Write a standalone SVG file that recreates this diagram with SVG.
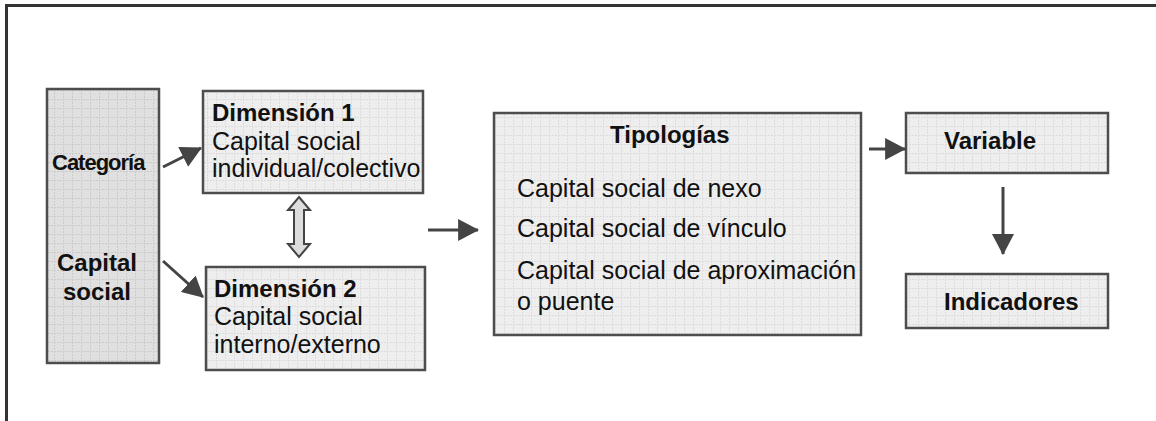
<svg xmlns="http://www.w3.org/2000/svg" width="1156" height="421" viewBox="0 0 1156 421">
<defs>
<pattern id="gridLight" width="9" height="9" patternUnits="userSpaceOnUse">
<rect width="9" height="9" fill="#eeeeee"/>
<path d="M0,0.5 H9 M0.5,0 V9" stroke="#dcdcdc" stroke-width="1" stroke-dasharray="2,1"/>
</pattern>
<pattern id="gridDark" width="9" height="9" patternUnits="userSpaceOnUse">
<rect width="9" height="9" fill="#e0e0e0"/>
<path d="M0,0.5 H9 M0.5,0 V9" stroke="#cbcbcb" stroke-width="1" stroke-dasharray="2,1"/>
</pattern>
<marker id="head" markerUnits="userSpaceOnUse" markerWidth="21" markerHeight="22" viewBox="0 0 20 21" refX="19" refY="10.5" orient="auto">
<path d="M0,0 L20,10.5 L0,21 Z" fill="#444444"/>
</marker>
<style>
.box { fill: url(#gridLight); stroke: #4d4d4d; stroke-width: 2.5; }
.boxd { fill: url(#gridDark); stroke: #4d4d4d; stroke-width: 2.5; }
.t { font-family: "Liberation Sans", Arial, sans-serif; font-size: 25px; fill: #111111; }
.b { font-weight: bold; font-size: 24px; }
.conn { stroke: #444444; stroke-width: 3; fill: none; marker-end: url(#head); }
.frame { stroke: #333333; stroke-width: 3; fill: none; }
</style>
</defs>
<rect width="1156" height="421" fill="#ffffff"/>
<path class="frame" d="M6.5,421 V5.5 H1156"/>

<g id="categoria">
<rect class="boxd" x="47" y="89" width="112" height="274"/>
<text class="t b" x="52" y="170" style="font-size:22px;letter-spacing:-1px">Categoría</text>
<text class="t b" x="97" y="271" text-anchor="middle">Capital</text>
<text class="t b" x="97" y="300" text-anchor="middle">social</text>
</g>

<g id="dimension1">
<rect class="box" x="203" y="91" width="220" height="102"/>
<text class="t b" x="212" y="121">Dimensión 1</text>
<text class="t" x="212" y="150">Capital social</text>
<text class="t" x="212" y="177">individual/colectivo</text>
</g>

<g id="dimension2">
<rect class="box" x="206" y="267" width="219" height="103"/>
<text class="t b" x="214" y="297">Dimensión 2</text>
<text class="t" x="214" y="325">Capital social</text>
<text class="t" x="214" y="353">interno/externo</text>
</g>

<g id="tipologias">
<rect class="box" x="494" y="113" width="367" height="222"/>
<text class="t b" x="610" y="143">Tipologías</text>
<text class="t" x="517" y="197">Capital social de nexo</text>
<text class="t" x="517" y="237">Capital social de vínculo</text>
<text class="t" x="517" y="279">Capital social de aproximación</text>
<text class="t" x="517" y="310">o puente</text>
</g>

<g id="variable">
<rect class="box" x="906" y="113" width="202" height="60"/>
<text class="t b" x="944" y="149">Variable</text>
</g>

<g id="indicadores">
<rect class="box" x="906" y="274" width="202" height="54"/>
<text class="t b" x="944" y="310">Indicadores</text>
</g>

<g id="connectors">
<line class="conn" x1="163" y1="167" x2="201" y2="148"/>
<line class="conn" x1="163" y1="261" x2="203" y2="297"/>
<line class="conn" x1="428" y1="230" x2="478" y2="230"/>
<line class="conn" x1="869" y1="149" x2="905" y2="149"/>
<line class="conn" x1="1003" y1="187" x2="1003" y2="254"/>
<polygon points="299,197 310,210 304,210 304,244 310,244 299,257 288,244 294,244 294,210 288,210" fill="#dddddd" stroke="#444444" stroke-width="2" stroke-linejoin="miter"/>
</g>
</svg>
